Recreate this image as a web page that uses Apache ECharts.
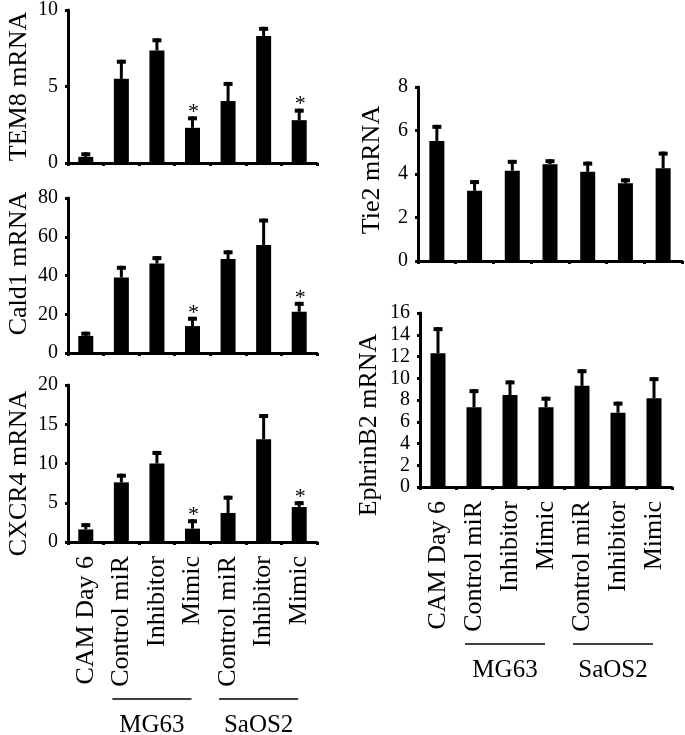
<!DOCTYPE html>
<html>
<head>
<meta charset="utf-8">
<script src="https://cdn.jsdelivr.net/npm/echarts@6/dist/echarts.min.js"></script>
<style>
html,body{margin:0;padding:0;background:#fff;}
#c{width:685px;height:735px;}
</style>
</head>
<body>
<div id="c"></div>
<script>
// ---- data ----
var categories = ['CAM Day 6', 'Control miR', 'Inhibitor', 'Mimic', 'Control miR', 'Inhibitor', 'Mimic'];

var tem8 = [0.4, 5.5, 7.35, 2.3, 4.05, 8.3, 2.8];
var tem8Err = [0.3, 1.25, 0.8, 0.75, 1.25, 0.6, 0.75];
var tem8Sig = [0, 0, 0, 1, 0, 0, 1];

var cald1 = [8.8, 39, 46.2, 13.9, 48.5, 55.7, 21.3];
var cald1Err = [2.2, 6, 3.8, 4.8, 4.5, 13.7, 5.1];
var cald1Sig = [0, 0, 0, 1, 0, 0, 1];

var cxcr4 = [1.6, 7.6, 10.0, 1.7, 3.7, 13.1, 4.45];
var cxcr4Err = [0.8, 1.1, 1.6, 1.2, 2.2, 3.2, 0.75];
var cxcr4Sig = [0, 0, 0, 1, 0, 0, 1];

var tie2 = [5.52, 3.23, 4.15, 4.45, 4.1, 3.57, 4.26];
var tie2Err = [0.74, 0.49, 0.5, 0.23, 0.47, 0.23, 0.77];
var tie2Sig = [0, 0, 0, 0, 0, 0, 0];

var ephrinB2 = [12.3, 7.33, 8.46, 7.33, 9.3, 6.83, 8.16];
var ephrinB2Err = [2.4, 1.67, 1.34, 0.97, 1.53, 1.02, 1.94];
var ephrinB2Sig = [0, 0, 0, 0, 0, 0, 0];

var groupNames = ['MG63', 'SaOS2'];
var groupFrom = [1, 4];
var groupTo = [3, 6];

var panelNames = ['TEM8 mRNA', 'Cald1 mRNA', 'CXCR4 mRNA', 'Tie2 mRNA', 'EphrinB2 mRNA'];
var yMax = [10, 80, 20, 8, 16];
var yInterval = [5, 20, 5, 2, 2];

// ---- layout ----
var FONT = 'Liberation Serif';
var panels = [
  {vals: tem8, err: tem8Err, sig: tem8Sig, grid: {left: 68, top: 6, width: 249, height: 157}, labels: false, nameGap: 36, namePad: [0, 0, 0, 0]},
  {vals: cald1, err: cald1Err, sig: cald1Sig, grid: {left: 68, top: 198, width: 249, height: 155}, labels: false, nameGap: 36, namePad: [0, 0, 0, 24]},
  {vals: cxcr4, err: cxcr4Err, sig: cxcr4Sig, grid: {left: 68, top: 385, width: 249, height: 157}, labels: true, nameGap: 36, namePad: [0, 20, 0, 0]},
  {vals: tie2, err: tie2Err, sig: tie2Sig, grid: {left: 418, top: 87, width: 264, height: 174}, labels: false, nameGap: 33, namePad: [0, 0, 0, 8]},
  {vals: ephrinB2, err: ephrinB2Err, sig: ephrinB2Sig, grid: {left: 420, top: 313, width: 252, height: 174}, labels: true, nameGap: 38, namePad: [0, 50, 0, 0]}
];

var grids = [], xAxes = [], yAxes = [], series = [];
panels.forEach(function (p, i) {
  grids.push(Object.assign({containLabel: false}, p.grid));
  xAxes.push({
    type: 'category', gridIndex: i, data: categories,
    axisLine: {lineStyle: {color: '#000', width: 3}},
    axisTick: {show: true, length: 3, lineStyle: {color: '#000', width: 3}},
    axisLabel: {show: p.labels, rotate: 90, interval: 0, margin: 14, color: '#000', fontFamily: FONT, fontSize: 26, hideOverlap: false},
    splitLine: {show: false}
  });
  yAxes.push({
    type: 'value', gridIndex: i, min: 0, max: yMax[i], interval: yInterval[i],
    name: panelNames[i], nameLocation: 'middle', nameGap: p.nameGap,
    nameTextStyle: {color: '#000', fontFamily: FONT, fontSize: 26, padding: p.namePad},
    axisLine: {show: true, lineStyle: {color: '#000', width: 3}},
    axisTick: {show: true, length: 3, lineStyle: {color: '#000', width: 3}},
    axisLabel: {color: '#000', fontFamily: FONT, fontSize: 20, margin: 10},
    splitLine: {show: false}
  });
  series.push({
    type: 'bar', xAxisIndex: i, yAxisIndex: i, data: p.vals, barWidth: 15,
    itemStyle: {color: '#000'}, silent: true, z: 2
  });
  var ed = p.vals.map(function (v, k) { return [k, v, v + p.err[k], p.sig[k]]; });
  series.push({
    type: 'custom', xAxisIndex: i, yAxisIndex: i, data: ed, z: 3, silent: true,
    encode: {x: 0, y: [1, 2]},
    renderItem: function (params, api) {
      var base = api.coord([api.value(0), api.value(1)]);
      var top = api.coord([api.value(0), api.value(2)]);
      var children = [
        {type: 'rect', shape: {x: top[0] - 1.5, y: top[1], width: 3, height: base[1] - top[1]}, style: {fill: '#000'}},
        {type: 'rect', shape: {x: top[0] - 4.5, y: top[1], width: 9, height: 4}, style: {fill: '#000'}}
      ];
      if (api.value(3)) {
        children.push({type: 'text', x: top[0] + 1, y: top[1] + 7,
          style: {text: '*', fill: '#000', font: '22px "Liberation Serif"', align: 'center', verticalAlign: 'bottom'}});
      }
      return {type: 'group', children: children};
    }
  });
});

var chart = echarts.init(document.getElementById('c'), null, {renderer: 'canvas'});
chart.setOption({
  animation: false,
  backgroundColor: '#fff',
  grid: grids, xAxis: xAxes, yAxis: yAxes, series: series
});

// group bracket lines + labels, positioned via the axes
var graphics = [];
[2, 4].forEach(function (pi) {
  var g = panels[pi].grid;
  var axisY = g.top + g.height;
  groupNames.forEach(function (name, gi) {
    var x1 = chart.convertToPixel({xAxisIndex: pi}, groupFrom[gi]);
    var x2 = chart.convertToPixel({xAxisIndex: pi}, groupTo[gi]);
    graphics.push({type: 'line', shape: {x1: x1 - 9, y1: axisY + 157, x2: x2 - 1, y2: axisY + 157},
      style: {stroke: '#000', lineWidth: 1.5}, silent: true});
    graphics.push({type: 'text', x: (x1 + x2) / 2 - 5, y: axisY + 183,
      style: {text: name, fill: '#000', font: '25px "Liberation Serif"', align: 'center', verticalAlign: 'middle'}, silent: true});
  });
});
chart.setOption({graphic: graphics});
</script>
</body>
</html>
